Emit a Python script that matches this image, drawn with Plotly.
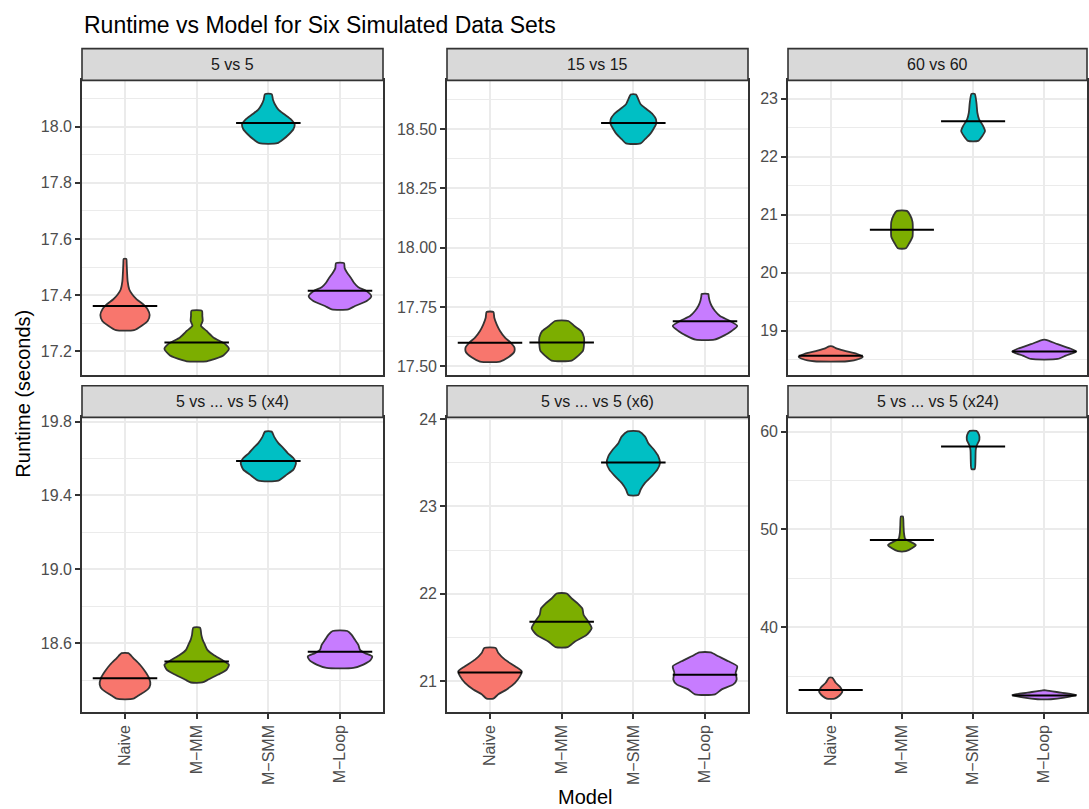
import plotly.graph_objects as go

# ---------------- data ----------------
MODELS = ["Naive", "M\u2212MM", "M\u2212SMM", "M\u2212Loop"]
COLORS = ["#F8766D", "#7CAE00", "#00BFC4", "#C77CFF"]
PANELS = ["5 vs 5", "15 vs 15", "60 vs 60",
          "5 vs ... vs 5 (x4)", "5 vs ... vs 5 (x6)", "5 vs ... vs 5 (x24)"]

# violin density profiles per panel: model -> (runtime levels, half-width in category units)
P1 = {
    "Naive": ([17.275, 17.291, 17.308, 17.329, 17.349, 17.367, 17.385, 17.402, 17.420, 17.449, 17.485, 17.514, 17.529],
              [0.126, 0.233, 0.316, 0.344, 0.316, 0.256, 0.163, 0.102, 0.060, 0.037, 0.028, 0.023, 0.019]),
    "MM": ([17.164, 17.167, 17.185, 17.208, 17.226, 17.249, 17.273, 17.291, 17.308, 17.326, 17.344],
           [0.140, 0.186, 0.372, 0.450, 0.395, 0.233, 0.135, 0.060, 0.084, 0.079, 0.074]),
    "SMM": ([17.941, 17.955, 17.973, 17.991, 18.008, 18.026, 18.044, 18.061, 18.079, 18.096, 18.116],
            [0.126, 0.209, 0.288, 0.349, 0.367, 0.316, 0.223, 0.140, 0.093, 0.065, 0.047]),
    "Loop": ([17.349, 17.361, 17.379, 17.396, 17.414, 17.428, 17.444, 17.461, 17.479, 17.496, 17.514],
             [0.116, 0.209, 0.372, 0.437, 0.372, 0.256, 0.195, 0.153, 0.102, 0.065, 0.056]),
}
P2 = {
    "Naive": ([17.520, 17.538, 17.559, 17.580, 17.600, 17.621, 17.649, 17.677, 17.705, 17.729],
              [0.140, 0.256, 0.335, 0.340, 0.288, 0.209, 0.140, 0.093, 0.060, 0.047]),
    "MM": ([17.524, 17.545, 17.566, 17.593, 17.621, 17.649, 17.670, 17.691],
           [0.140, 0.233, 0.298, 0.312, 0.312, 0.270, 0.177, 0.093]),
    "SMM": ([18.440, 18.458, 18.479, 18.500, 18.521, 18.542, 18.563, 18.584, 18.605, 18.626, 18.646],
            [0.102, 0.163, 0.233, 0.279, 0.316, 0.316, 0.270, 0.186, 0.102, 0.070, 0.037]),
    "Loop": ([17.612, 17.628, 17.649, 17.670, 17.691, 17.712, 17.733, 17.754, 17.775, 17.796, 17.805],
             [0.130, 0.256, 0.372, 0.450, 0.349, 0.209, 0.140, 0.093, 0.065, 0.051, 0.047]),
}
P3 = {
    "Naive": ([18.477, 18.516, 18.556, 18.602, 18.659, 18.704, 18.733],
              [0.233, 0.395, 0.450, 0.372, 0.186, 0.070, 0.023]),
    "MM": ([20.422, 20.508, 20.622, 20.735, 20.878, 20.991, 21.065],
           [0.056, 0.102, 0.149, 0.153, 0.149, 0.116, 0.070]),
    "SMM": ([22.272, 22.357, 22.442, 22.528, 22.642, 22.755, 22.926, 23.080],
            [0.070, 0.130, 0.167, 0.140, 0.084, 0.060, 0.047, 0.023]),
    "Loop": ([18.516, 18.573, 18.647, 18.704, 18.772, 18.846],
             [0.186, 0.302, 0.450, 0.349, 0.186, 0.023]),
}
P4 = {
    "Naive": ([18.299, 18.322, 18.349, 18.376, 18.412, 18.448, 18.483, 18.519, 18.546],
              [0.116, 0.209, 0.316, 0.353, 0.335, 0.279, 0.209, 0.116, 0.047]),
    "MM": ([18.387, 18.403, 18.430, 18.457, 18.483, 18.510, 18.537, 18.564, 18.591, 18.618, 18.645, 18.684],
           [0.079, 0.163, 0.302, 0.419, 0.450, 0.349, 0.233, 0.149, 0.116, 0.084, 0.065, 0.047]),
    "SMM": ([19.481, 19.513, 19.540, 19.576, 19.603, 19.630, 19.657, 19.684, 19.716, 19.746],
            [0.140, 0.256, 0.349, 0.386, 0.349, 0.270, 0.209, 0.140, 0.084, 0.047]),
    "Loop": ([18.466, 18.484, 18.505, 18.528, 18.546, 18.564, 18.591, 18.618, 18.645, 18.666],
             [0.186, 0.326, 0.419, 0.450, 0.349, 0.279, 0.256, 0.209, 0.163, 0.102]),
}
P5 = {
    "Naive": ([20.800, 20.849, 20.905, 20.981, 21.057, 21.113, 21.170, 21.246, 21.322, 21.378],
              [0.047, 0.116, 0.233, 0.349, 0.419, 0.442, 0.349, 0.209, 0.116, 0.079]),
    "MM": ([21.390, 21.454, 21.530, 21.605, 21.681, 21.757, 21.832, 21.889, 21.946, 22.003],
           [0.084, 0.186, 0.349, 0.419, 0.372, 0.307, 0.288, 0.223, 0.140, 0.070]),
    "SMM": ([23.130, 23.194, 23.270, 23.346, 23.421, 23.497, 23.573, 23.648, 23.724, 23.799, 23.860],
            [0.070, 0.102, 0.163, 0.256, 0.335, 0.372, 0.349, 0.288, 0.209, 0.163, 0.079]),
    "Loop": ([20.849, 20.905, 20.962, 21.019, 21.095, 21.170, 21.227, 21.284, 21.329],
             [0.140, 0.233, 0.395, 0.442, 0.428, 0.450, 0.326, 0.186, 0.079]),
}
P6 = {
    "Naive": ([32.70, 32.97, 33.41, 33.82, 34.32, 34.83],
              [0.056, 0.116, 0.163, 0.140, 0.070, 0.023]),
    "MM": ([47.77, 48.07, 48.41, 48.75, 49.02, 49.70, 50.37, 51.32],
           [0.056, 0.140, 0.195, 0.116, 0.047, 0.028, 0.023, 0.014]),
    "SMM": ([56.18, 57.13, 58.14, 58.65, 59.16, 59.66, 60.07],
            [0.023, 0.033, 0.037, 0.056, 0.088, 0.084, 0.047]),
    "Loop": ([32.64, 32.80, 33.07, 33.31, 33.55],
             [0.093, 0.279, 0.450, 0.233, 0.023]),
}

MED1 = [17.361, 17.231, 18.013, 17.415]
MED2 = [17.599, 17.600, 18.526, 17.690]
MED3 = [18.573, 20.741, 22.607, 18.647]
MED4 = [18.410, 18.501, 19.587, 18.554]
MED5 = [21.098, 21.681, 23.504, 21.072]
MED6 = [33.58, 48.92, 58.48, 33.01]

TICKS1 = [17.2, 17.4, 17.6, 17.8, 18.0]
TICKS2 = [17.50, 17.75, 18.00, 18.25, 18.50]
TICKS3 = [19, 20, 21, 22, 23]
TICKS4 = [18.6, 19.0, 19.4, 19.8]
TICKS5 = [21, 22, 23, 24]
TICKS6 = [40, 50, 60]
TICKFMT = [".1f", ".2f", "d", ".1f", "d", "d"]
YRANGES = [[17.116, 18.165], [17.464, 18.706], [18.244, 23.313],
           [18.228, 19.823], [20.648, 24.019], [31.35, 61.45]]

PROFILES = [P1, P2, P3, P4, P5, P6]
MEDIANS = [MED1, MED2, MED3, MED4, MED5, MED6]
TICKS = [TICKS1, TICKS2, TICKS3, TICKS4, TICKS5, TICKS6]
KEYS = ["Naive", "MM", "SMM", "Loop"]

# ---------------- layout geometry (pixels) ----------------
W, H = 1089, 809
XCOLS = [(82, 383), (447, 748), (788, 1087)]
ROWS = [((42, 74), (74, 371)), ((382, 414), (414, 711))]

def px(x):
    return x / W

def py(y):
    return 1 - y / H

FONT = "Liberation Sans, Arial, sans-serif"
fig = go.Figure()
layout = dict(
    width=W, height=H, margin=dict(l=0, r=0, t=0, b=0),
    paper_bgcolor="white", plot_bgcolor="white", showlegend=False,
    font=dict(family=FONT),
)
shapes = []
annotations = []

for i in range(6):
    r, c = divmod(i, 3)
    (sy0, sy1), (ay0, ay1) = ROWS[r]
    x0, x1 = XCOLS[c]
    n = i + 1
    xa = "x" if n == 1 else f"x{n}"
    ya = "y" if n == 1 else f"y{n}"
    bottom = (r == 1)
    ticks = TICKS[i]
    step = ticks[1] - ticks[0]
    lo, hi = YRANGES[i]
    minor = []
    v = ticks[0] - step / 2
    while v > lo:
        v -= step
    while v < hi:
        if v > lo:
            minor.append(round(v, 6))
        v += step
    layout[f"xaxis{'' if n == 1 else n}"] = dict(
        domain=[px(x0), px(x1)], anchor=ya, range=[0.4, 4.6],
        tickmode="array", tickvals=[1, 2, 3, 4], ticktext=MODELS,
        showticklabels=bottom, ticks="outside" if bottom else "",
        ticklen=5, tickwidth=1.6, tickcolor="#333333", tickangle=-90,
        tickfont=dict(size=16, color="#4D4D4D", family=FONT),
        showgrid=True, gridcolor="#EBEBEB", gridwidth=1.5, zeroline=False,
        showline=True, mirror=True, linecolor="#333333", linewidth=1.6,
        fixedrange=True,
    )
    layout[f"yaxis{'' if n == 1 else n}"] = dict(
        domain=[py(ay1), py(ay0)], anchor=xa, range=[lo, hi],
        tickmode="array", tickvals=ticks,
        ticktext=[format(t, TICKFMT[i]) for t in ticks],
        ticks="outside", ticklen=5, tickwidth=1.6, tickcolor="#333333",
        tickfont=dict(size=16, color="#4D4D4D", family=FONT),
        showgrid=True, gridcolor="#EBEBEB", gridwidth=1.5, zeroline=False,
        minor=dict(tickmode="array", tickvals=minor, showgrid=True,
                   gridcolor="#EBEBEB", gridwidth=0.75, ticks=""),
        showline=True, mirror=True, linecolor="#333333", linewidth=1.6,
        fixedrange=True,
    )
    # strip
    shapes.append(dict(type="rect", xref="paper", yref="paper",
                       x0=px(x0), x1=px(x1), y0=py(sy1), y1=py(sy0),
                       fillcolor="#D9D9D9", line=dict(color="#333333", width=1.6),
                       layer="above"))
    annotations.append(dict(text=PANELS[i], xref="paper", yref="paper",
                            x=px((x0 + x1) / 2), y=py((sy0 + sy1) / 2),
                            xanchor="center", yanchor="middle", showarrow=False,
                            font=dict(size=16, color="#1A1A1A", family=FONT)))
    # violins
    prof = PROFILES[i]
    for k, key in enumerate(KEYS):
        ys, ws = prof[key]
        cx = k + 1
        xs = [cx + w for w in ws] + [cx - w for w in reversed(ws)] + [cx + ws[0]]
        yy = list(ys) + list(reversed(ys)) + [ys[0]]
        fig.add_trace(go.Scatter(
            x=xs, y=yy, xaxis=xa, yaxis=ya, mode="lines", fill="toself",
            fillcolor=COLORS[k], line=dict(color="#333333", width=1.8, shape="spline", smoothing=0.6),
            hoverinfo="skip"))
    # medians
    for k in range(4):
        m = MEDIANS[i][k]
        fig.add_trace(go.Scatter(
            x=[k + 1 - 0.45, k + 1 + 0.45], y=[m, m], xaxis=xa, yaxis=ya,
            mode="lines", line=dict(color="black", width=2), hoverinfo="skip"))

annotations.append(dict(text="Runtime vs Model for Six Simulated Data Sets",
                        xref="paper", yref="paper", x=px(82), y=py(18),
                        xanchor="left", yanchor="middle", showarrow=False,
                        font=dict(size=23, color="black", family=FONT)))
annotations.append(dict(text="Runtime (seconds)", xref="paper", yref="paper",
                        x=px(23), y=py(390), xanchor="center", yanchor="middle",
                        textangle=-90, showarrow=False,
                        font=dict(size=20, color="black", family=FONT)))
annotations.append(dict(text="Model", xref="paper", yref="paper",
                        x=px(585), y=py(797), xanchor="center", yanchor="middle",
                        showarrow=False, font=dict(size=20, color="black", family=FONT)))

layout["shapes"] = shapes
layout["annotations"] = annotations
fig.update_layout(**layout)
fig.write_html("out.html")
